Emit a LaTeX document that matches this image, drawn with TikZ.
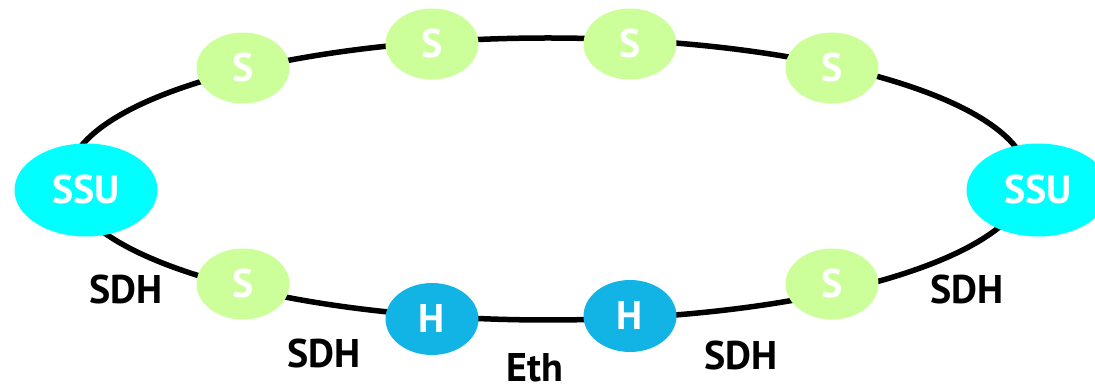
\documentclass[tikz,border=0pt]{standalone}
\usepackage{fontspec}
\setmainfont{PT Sans}
\usetikzlibrary{shapes.geometric}
\definecolor{sgreen}{HTML}{CCFF99}
\definecolor{ssucyan}{HTML}{00FFFF}
\definecolor{hblue}{HTML}{11B4E4}
\tikzset{
  ring/.style={line width=5.5pt, black},
  nodebase/.style={ellipse, draw=none, inner sep=0pt, text=white, font=\fontsize{40}{40}\selectfont\bfseries},
  snode/.style={nodebase, fill=sgreen, minimum width=93pt, minimum height=71pt},
  hnode/.style={nodebase, fill=hblue, minimum width=93pt, minimum height=72pt},
  ssunode/.style={nodebase, fill=ssucyan, minimum width=143pt, minimum height=93pt},
  linklabel/.style={text=black, font=\fontsize{40}{40}\selectfont\bfseries, inner sep=0pt}
}
\begin{document}
\begin{tikzpicture}[x=1pt,y=-1pt]
  \useasboundingbox (0,0) rectangle (1095,387);
  \clip (0,0) rectangle (1095,387);
  % synchronisation ring
  \draw[ring] (548,179) ellipse [x radius=480, y radius=141];
  % supply units
  \node[ssunode] (ssuL) at (86,190) {SSU};
  \node[ssunode] (ssuR) at (1038,190) {SSU};
  % upper arc of slave clocks
  \node[snode] (s1) at (243,68) {S};
  \node[snode] (s2) at (432,44) {S};
  \node[snode] (s3) at (630,44) {S};
  \node[snode] (s4) at (832,68) {S};
  % lower arc
  \node[snode] (s5) at (243,284) {S};
  \node[hnode] (h1) at (432,319) {H};
  \node[hnode] (h2) at (630,316) {H};
  \node[snode] (s6) at (832,284) {S};
  % link types
  \node[linklabel] (l1) at (126,290) {SDH};
  \node[linklabel] (l2) at (324,353) {SDH};
  \node[linklabel, anchor=base] (l3) at (535,381) {Eth};
  \node[linklabel] (l4) at (741,355) {SDH};
  \node[linklabel] (l5) at (967,290) {SDH};
\end{tikzpicture}
\end{document}
